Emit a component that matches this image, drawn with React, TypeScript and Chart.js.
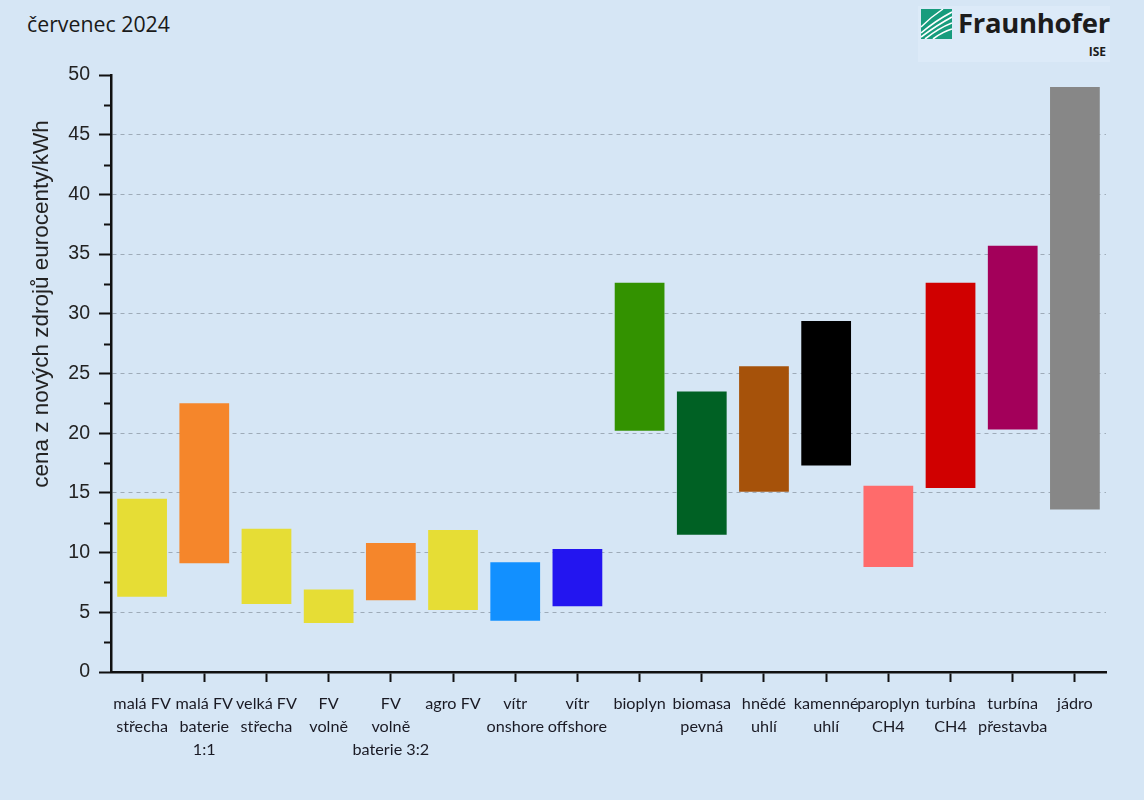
import { useEffect, useRef } from "react";
import { Chart, registerables } from "chart.js";

Chart.register(...registerables);

const categories = [
  ["malá FV", "střecha"],
  ["malá FV", "baterie", "1:1"],
  ["velká FV", "střecha"],
  ["FV", "volně"],
  ["FV", "volně", "baterie 3:2"],
  ["agro FV"],
  ["vítr", "onshore"],
  ["vítr", "offshore"],
  ["bioplyn"],
  ["biomasa", "pevná"],
  ["hnědé", "uhlí"],
  ["kamenné", "uhlí"],
  ["paroplyn", "CH4"],
  ["turbína", "CH4"],
  ["turbína", "přestavba"],
  ["jádro"],
];

// cena min / max, eurocenty/kWh
const costLow = [6.3, 9.1, 5.7, 4.1, 6.0, 5.2, 4.3, 5.5, 20.2, 11.5, 15.1, 17.3, 8.8, 15.4, 20.3, 13.6];
const costHigh = [14.5, 22.5, 12.0, 6.9, 10.8, 11.9, 9.2, 10.3, 32.6, 23.5, 25.6, 29.4, 15.6, 32.6, 35.7, 49.0];

const barColors = [
  "#e6dd35", "#f5862b", "#e6dd35", "#e6dd35", "#f5862b", "#e6dd35", "#1290ff", "#2315f0",
  "#339200", "#006124", "#a6520a", "#000000", "#ff6b6b", "#d00000", "#a3005a", "#878787",
];

const yTicks = [0, 5, 10, 15, 20, 25, 30, 35, 40, 45, 50];

const BG = "#d6e6f5";

// minor ticks on y axis + rotated axis title
const extras = {
  id: "extras",
  afterDraw(chart: any) {
    const { ctx, scales } = chart;
    const y = scales.y;
    const x0 = chart.chartArea.left;
    ctx.save();
    ctx.strokeStyle = "#111";
    ctx.lineWidth = 2;
    for (let i = 0; i < yTicks.length - 1; i++) {
      const v = (yTicks[i] + yTicks[i + 1]) / 2;
      const py = Math.round(y.getPixelForValue(v)) + 0.5;
      ctx.beginPath();
      ctx.moveTo(x0 - 7, py);
      ctx.lineTo(x0, py);
      ctx.stroke();
    }
    ctx.translate(42, 304);
    ctx.rotate(-Math.PI / 2);
    ctx.fillStyle = "#222";
    ctx.font = "22.5px 'Liberation Sans', Arial, sans-serif";
    ctx.textAlign = "center";
    ctx.textBaseline = "middle";
    ctx.fillText("cena z nových zdrojů eurocenty/kWh", 0, 0);
    ctx.restore();
  },
};

function FraunhoferLogo() {
  return (
    <div
      style={{
        position: "absolute",
        left: 918,
        top: 6,
        width: 192,
        height: 56,
        background: "#dceaf8",
        fontFamily: "'Open Sans', sans-serif",
        color: "#1c1c1c",
      }}
    >
      <svg width="31" height="30" style={{ position: "absolute", left: 3, top: 3 }} viewBox="0 0 31 30">
        <rect width="31" height="30" fill="#179c7d" />
        <path d="M0 24 Q14 12 31 3" stroke="#fff" strokeWidth="1.6" fill="none" />
        <path d="M0 28 Q16 16 31 8" stroke="#fff" strokeWidth="1.6" fill="none" />
        <path d="M4 30 Q18 19 31 14" stroke="#fff" strokeWidth="1.6" fill="none" />
        <path d="M12 30 Q21 23 31 20" stroke="#fff" strokeWidth="1.6" fill="none" />
        <path d="M0 18 Q10 8 22 0" stroke="#fff" strokeWidth="1.4" fill="none" />
      </svg>
      <div style={{ position: "absolute", left: 40, top: -2, fontSize: 27.5, fontWeight: 700, letterSpacing: -0.3 }}>
        Fraunhofer
      </div>
      <div style={{ position: "absolute", right: 4, top: 37, fontSize: 12, fontWeight: 700 }}>ISE</div>
    </div>
  );
}

export default function App() {
  const canvasRef = useRef<HTMLCanvasElement>(null);

  useEffect(() => {
    const chart = new Chart(canvasRef.current!, {
      type: "bar",
      data: {
        labels: categories,
        datasets: [
          {
            data: costLow.map((lo, i) => [lo, costHigh[i]]),
            backgroundColor: barColors,
            borderWidth: 0,
            barPercentage: 0.8,
            categoryPercentage: 1,
          },
        ],
      },
      options: {
        responsive: false,
        animation: false,
        layout: { padding: { top: 75, right: 38, bottom: 0, left: 0 } },
        plugins: { legend: { display: false }, tooltip: { enabled: false } },
        scales: {
          x: {
            offset: true,
            grid: {
              offset: false,
              drawOnChartArea: false,
              tickLength: 10,
              tickColor: "#111",
              tickWidth: 2,
            },
            border: { color: "#111", width: 2.5 },
            ticks: {
              color: "#1a1a24",
              padding: 10,
              maxRotation: 0,
              autoSkip: false,
              font: { family: "Lato, sans-serif", size: 16.2, lineHeight: "23px" },
            },
            afterFit: (s: any) => {
              s.height = 128;
            },
          },
          y: {
            min: 0,
            max: 50,
            afterBuildTicks: (s: any) => {
              s.ticks = yTicks.map((v) => ({ value: v }));
            },
            grid: {
              color: (c: any) => (c.tick && c.tick.value > 0 && c.tick.value < 50 ? "#9eabb8" : "rgba(0,0,0,0)"),
              lineWidth: 1,
              tickColor: "#111",
              tickLength: 12,
              tickWidth: 2,
              tickBorderDash: [],
            },
            border: { color: "#111", width: 2.5, dash: [4, 4] },
            ticks: {
              color: "#222",
              padding: 9,
              font: { family: "'Liberation Sans', Arial, sans-serif", size: 19.5 },
            },
            afterFit: (s: any) => {
              s.width = 111;
            },
          },
        },
      },
      plugins: [extras],
    });
    return () => chart.destroy();
  }, []);

  return (
    <div style={{ position: "fixed", left: 0, top: 0, width: 1144, height: 800, background: BG }}>
      <div
        style={{
          position: "absolute",
          left: 27,
          top: 9,
          fontFamily: "'Open Sans', sans-serif",
          fontSize: 21.3,
          color: "#1a1a1a",
        }}
      >
        červenec 2024
      </div>
      <FraunhoferLogo />
      <canvas ref={canvasRef} width={1144} height={800} style={{ position: "absolute", left: 0, top: 0 }} />
    </div>
  );
}
